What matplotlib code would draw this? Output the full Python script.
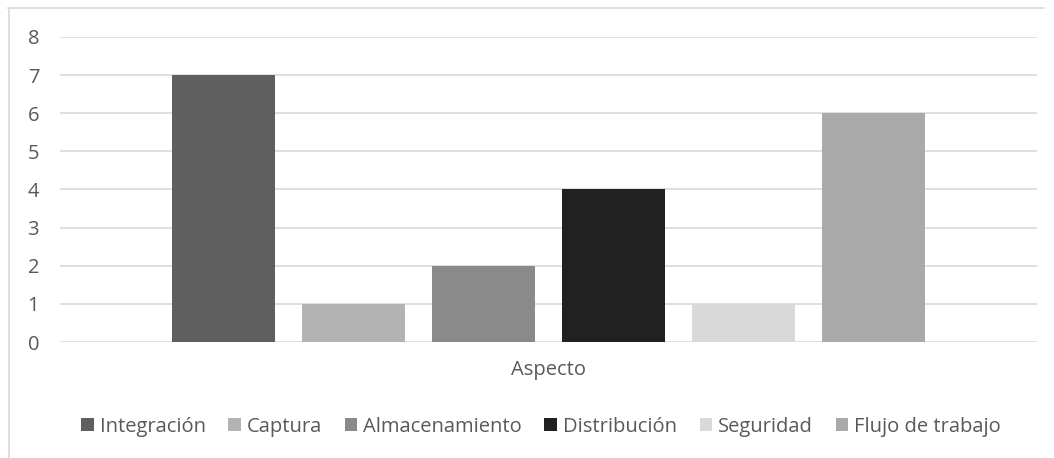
import matplotlib
matplotlib.use("Agg")
import matplotlib.pyplot as plt
from matplotlib.patches import Patch
from matplotlib.lines import Line2D

category = "Aspecto"
series = ["Integración", "Captura", "Almacenamiento", "Distribución", "Seguridad", "Flujo de trabajo"]
values = [7, 1, 2, 4, 1, 6]
colors = ["#5f5f5f", "#b3b3b3", "#8a8a8a", "#212121", "#d9d9d9", "#aaaaaa"]
yticks = [0, 1, 2, 3, 4, 5, 6, 7, 8]

W, H = 1054, 458
fig = plt.figure(figsize=(W / 100, H / 100), dpi=100)
plt.rcParams['font.family'] = ['Open Sans', 'DejaVu Sans']
txt = "#595959"
fs = 14.5

# axes: x 60..1037, y 37(8)..342(0)
ax = fig.add_axes([60 / W, 1 - 342 / H, (1037 - 60) / W, (342 - 37) / H])
ax.set_xlim(-0.5, 0.5)
ax.set_ylim(0, 8)

pxw = 1.0 / 977
bw = 103 * pxw
step = 130 * pxw
n = len(values)
for i, (v, c) in enumerate(zip(values, colors)):
    x = (i - (n - 1) / 2) * step
    ax.bar(x, v, width=bw, color=c, zorder=3, linewidth=0)

ax.set_yticks(yticks)
ax.set_yticklabels([str(t) for t in yticks], fontsize=fs, color=txt)
ax.yaxis.grid(True, color="#d9d9d9", linewidth=1.2, zorder=0)
ax.set_axisbelow(True)
ax.tick_params(axis='y', length=0, pad=15)
ax.tick_params(axis='x', length=0)
ax.set_xticks([0])
ax.set_xticklabels([category], fontsize=fs, color=txt)
ax.tick_params(axis='x', pad=13)
for s in ax.spines.values():
    s.set_visible(False)

# figure border (left and top)
fig.add_artist(Line2D([8 / W, 1044 / W], [1 - 7.5 / H, 1 - 7.5 / H], color="#d9d9d9", linewidth=1.2))
fig.add_artist(Line2D([8.5 / W, 8.5 / W], [0, 1 - 7.5 / H], color="#d9d9d9", linewidth=1.2))

handles = [Patch(facecolor=c, edgecolor='none') for c in colors]
leg = fig.legend(handles, series, loc='center', bbox_to_anchor=(541 / W, 1 - 427 / H), ncol=6,
                 frameon=False, fontsize=fs, handlelength=0.62, handleheight=0.62,
                 handletextpad=0.3, columnspacing=1.12, borderpad=0)
for t in leg.get_texts():
    t.set_color(txt)

fig.savefig("out.png", dpi=100)
